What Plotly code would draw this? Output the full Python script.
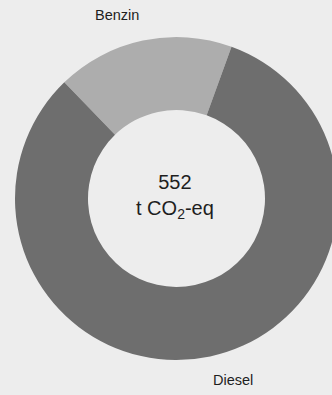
import plotly.graph_objects as go

# Emissions by fuel type (t CO2-eq)
fuels = ["Benzin", "Diesel"]
emissions = [98, 454]
fuel_colors = ["#adadad", "#6e6e6e"]
total_label = "552"
unit_label = "t CO<sub>2</sub>-eq"

W, H = 353, 395
BG = "#ededed"

fig = go.Figure(
    go.Pie(
        labels=fuels,
        values=emissions,
        hole=0.548,
        sort=False,
        direction="clockwise",
        rotation=-44,
        marker=dict(colors=fuel_colors, line=dict(width=0)),
        textinfo="none",
        hoverinfo="label+value",
        showlegend=False,
        domain=dict(x=[0, 1], y=[35 / H, 358 / H]),
    )
)

txt = dict(family="Liberation Sans, Arial, sans-serif", color="#1e1e1e")

fig.add_annotation(
    text=f"{total_label}<br>{unit_label}",
    x=174.5 / W, y=1 - 196 / H, xref="paper", yref="paper",
    xanchor="center", yanchor="middle",
    showarrow=False, font=dict(size=20, **txt), align="center",
)
fig.add_annotation(
    text=fuels[0], x=116.7 / W, y=1 - 15 / H, xref="paper", yref="paper",
    xanchor="center", yanchor="middle",
    showarrow=False, font=dict(size=14.5, **txt),
)
fig.add_annotation(
    text=fuels[1], x=233 / W, y=1 - 380 / H, xref="paper", yref="paper",
    xanchor="center", yanchor="middle",
    showarrow=False, font=dict(size=14.5, **txt),
)

fig.update_layout(
    width=W, height=H,
    margin=dict(l=0, r=0, t=0, b=0),
    paper_bgcolor=BG, plot_bgcolor=BG,
)

fig.write_html(
    "out.html",
    config={"displayModeBar": False},
    post_script="document.documentElement.style.overflow='hidden';"
                "document.body.style.overflow='hidden';"
                "document.body.style.margin='0';"
                f"document.body.style.background='{BG}';",
)
